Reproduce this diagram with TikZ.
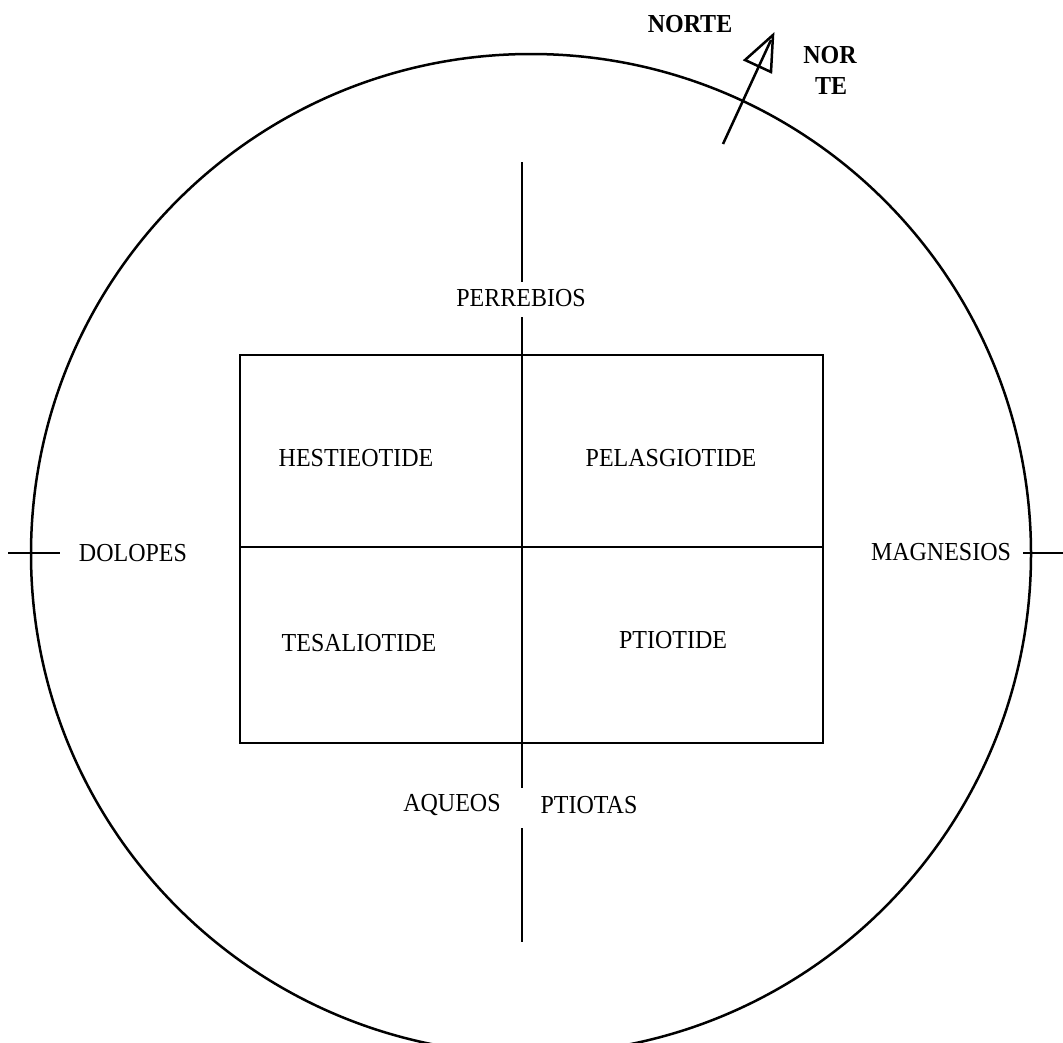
\documentclass[tikz,border=0pt]{standalone}
\usepackage{fontspec}
\setmainfont{Liberation Serif}
\newcommand{\tallt}[1]{\scalebox{1}[1.08]{#1}}
\begin{document}
\begin{tikzpicture}[x=1pt,y=-1pt,
  ln/.style={line width=2.5pt},
  lbl/.style={font=\fontsize{24}{28}\selectfont, inner sep=0pt, anchor=center},
  blbl/.style={font=\fontsize{24}{28}\selectfont\bfseries, inner sep=0pt, anchor=center}]
\clip (0,0) rectangle (1063,1042);
\fill[white] (0,0) rectangle (1063,1042);
% outer circle
\draw[ln] (531,554) circle (500);
% side ticks
\draw[ln] (8,553) -- (60,553);
\draw[ln] (1023,553) -- (1063,553);
% rectangle and divisions
\coordinate (tl) at (240,355);
\coordinate (br) at (823,743);
\draw[ln] (tl) rectangle (br);
\draw[ln] (522,355) -- (522,743);
\draw[ln] (240,547) -- (823,547);
% top vertical line
\draw[ln] (522,162) -- (522,282);
\draw[ln] (522,317) -- (522,355);
% bottom vertical line
\draw[ln] (522,743) -- (522,788);
\draw[ln] (522,828) -- (522,942);
% labels
\node[lbl] (perr) at (521,298) {\tallt{PERREBIOS}};
\node[lbl] (hest) at (356,458) {\tallt{HESTIEOTIDE}};
\node[lbl] (pela) at (671,458) {\tallt{PELASGIOTIDE}};
\node[lbl] (tesa) at (359,643) {\tallt{TESALIOTIDE}};
\node[lbl] (ptid) at (673,640) {\tallt{PTIOTIDE}};
\node[lbl] (dolo) at (133,553) {\tallt{DOLOPES}};
\node[lbl] (magn) at (941,552) {\tallt{MAGNESIOS}};
\node[lbl] (aque) at (452,805) {\tallt{AQUEOS}};
\node[lbl] (ptas) at (589,805) {\tallt{PTIOTAS}};
\node[blbl] (norte) at (690,24) {\tallt{NORTE}};
\node[blbl] (nor) at (830,55) {\tallt{NOR}};
\node[blbl] (te) at (831,86) {\tallt{TE}};
% north arrow
\coordinate (as) at (723,144);
\coordinate (ae) at (771,40);
\draw[ln] (as) -- (ae);
\draw[ln, line join=miter] (773,35) -- (745,60) -- (771,72) -- cycle;
\end{tikzpicture}
\end{document}
